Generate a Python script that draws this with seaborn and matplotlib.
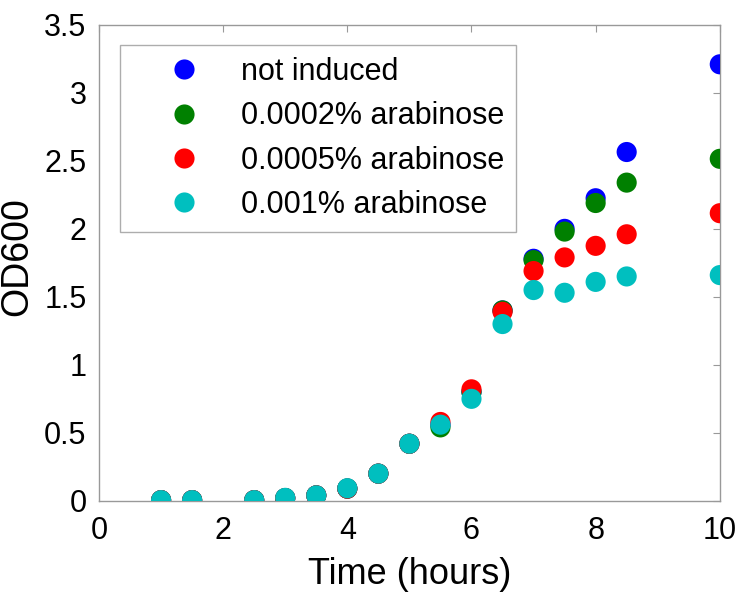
import numpy as np
import pandas as pd
import seaborn as sns
import matplotlib
matplotlib.use("Agg")
import matplotlib.pyplot as plt
from matplotlib.ticker import FuncFormatter, MultipleLocator

# time points (hours)
time = [1, 1.5, 2.5, 3, 3.5, 4, 4.5, 5, 5.5, 6, 6.5, 7, 7.5, 8, 8.5, 10]

# OD600 readings per condition
not_induced = [0.005, 0.005, 0.005, 0.02, 0.04, 0.09, 0.2, 0.42, 0.56, 0.80, 1.40, 1.78, 2.00, 2.225, 2.565, 3.21]
ara_0002 = [0.005, 0.005, 0.005, 0.02, 0.04, 0.09, 0.2, 0.42, 0.54, 0.80, 1.40, 1.77, 1.98, 2.19, 2.34, 2.515]
ara_0005 = [0.005, 0.005, 0.005, 0.02, 0.04, 0.09, 0.2, 0.42, 0.58, 0.82, 1.39, 1.69, 1.79, 1.875, 1.96, 2.115]
ara_001 = [0.005, 0.005, 0.005, 0.022, 0.04, 0.093, 0.2, 0.42, 0.56, 0.75, 1.30, 1.55, 1.53, 1.61, 1.65, 1.66]

labels = ["not induced", "0.0002% arabinose", "0.0005% arabinose", "0.001% arabinose"]
colors = ["#0000ff", "#008000", "#ff0000", "#00bfbf"]

frames = []
for lab, vals in zip(labels, [not_induced, ara_0002, ara_0005, ara_001]):
    frames.append(pd.DataFrame({"time": time, "od": vals, "cond": lab}))
df = pd.concat(frames, ignore_index=True)

sns.set_style("white")
plt.rcParams['font.family'] = ['Liberation Sans', 'DejaVu Sans']
plt.rcParams['text.color'] = 'black'
plt.rcParams['axes.labelcolor'] = 'black'
plt.rcParams['xtick.color'] = 'black'
plt.rcParams['ytick.color'] = 'black'

fig = plt.figure(figsize=(7.39, 5.92), dpi=100)
ax = fig.add_axes([0.134, 0.154, 0.840, 0.804])

sns.scatterplot(data=df, x="time", y="od", hue="cond", hue_order=labels,
                palette=colors, s=210, linewidth=0, ax=ax, zorder=3)

ax.set_xlim(0, 10)
ax.set_ylim(0, 3.5)
ax.xaxis.set_major_locator(MultipleLocator(2))
ax.yaxis.set_major_locator(MultipleLocator(0.5))
ax.yaxis.set_major_formatter(FuncFormatter(lambda v, p: "%g" % v))
ax.tick_params(direction="in", top=True, right=True, length=5, width=0.8,
               color="#999999", labelcolor="black", labelsize=22)
ax.tick_params(axis="x", pad=11)
ax.tick_params(axis="y", pad=9)
for sp in ax.spines.values():
    sp.set_color("#999999")
    sp.set_linewidth(1.0)

ax.set_xlabel("Time (hours)", fontsize=26, labelpad=8)
ax.set_ylabel("OD600", fontsize=27)
ax.yaxis.set_label_coords(-0.103, 0.513)

leg = ax.legend(loc="upper left", bbox_to_anchor=(0.034, 0.958), borderaxespad=0,
                fontsize=22, frameon=True, fancybox=False, edgecolor="#999999",
                markerscale=1.0, labelspacing=0.47, borderpad=0.4,
                handletextpad=0.15, handlelength=3.4)
leg.get_frame().set_linewidth(1.0)

fig.savefig("out.png", dpi=100)
